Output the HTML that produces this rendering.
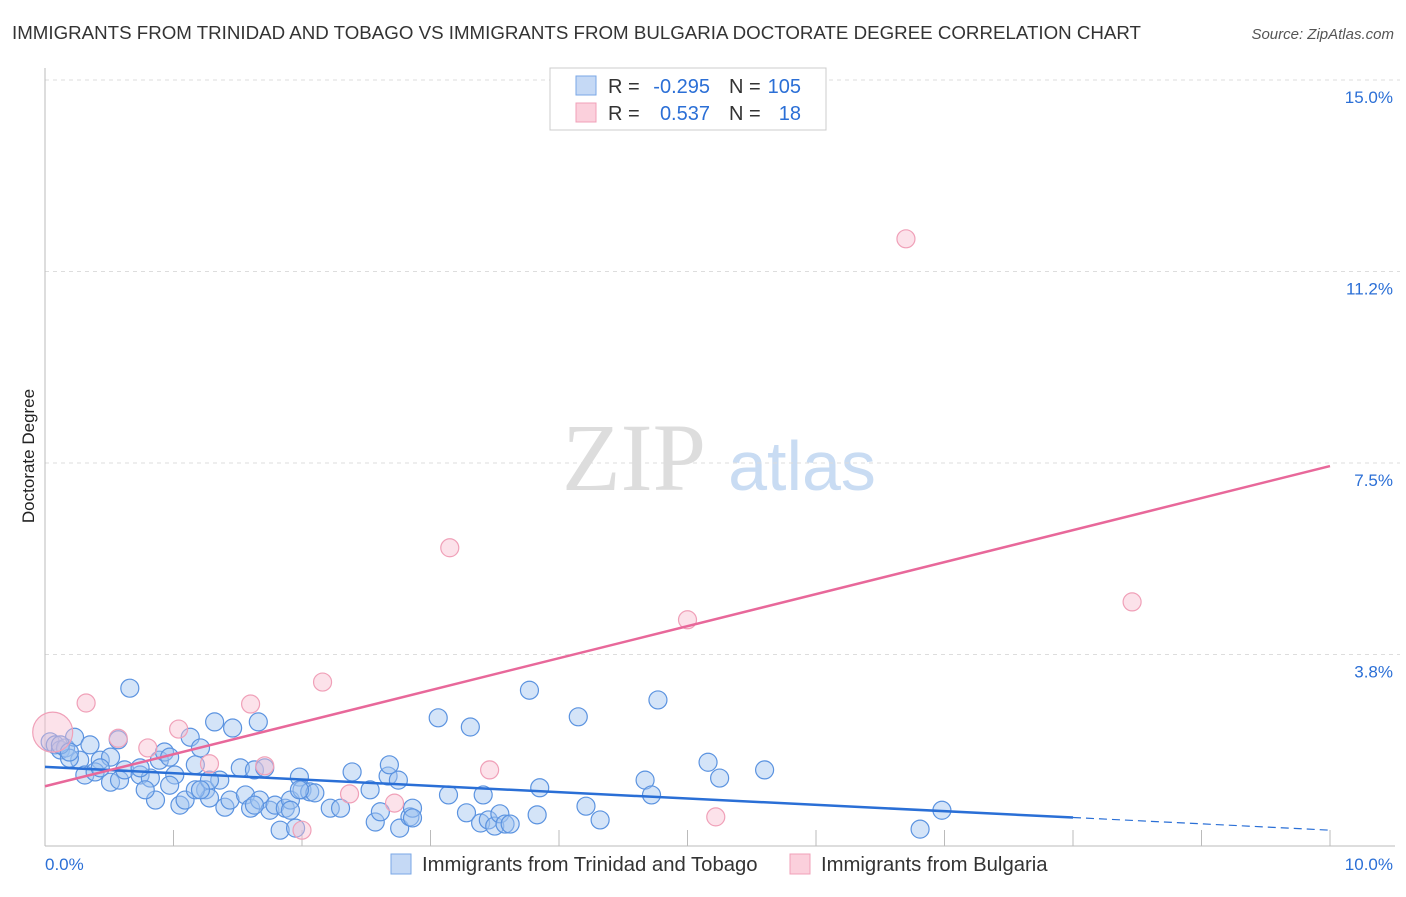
<!DOCTYPE html>
<html><head><meta charset="utf-8"><style>
body{margin:0;background:#fff;font-family:"Liberation Sans",sans-serif}
</style></head><body>
<svg width="1406" height="892" xmlns="http://www.w3.org/2000/svg" font-family="Liberation Sans, sans-serif">
<text x="12" y="39" font-size="18.6" fill="#333" textLength="1129" lengthAdjust="spacingAndGlyphs">IMMIGRANTS FROM TRINIDAD AND TOBAGO VS IMMIGRANTS FROM BULGARIA DOCTORATE DEGREE CORRELATION CHART</text>
<text x="1394" y="39" font-size="15" fill="#555" font-style="italic" text-anchor="end">Source: ZipAtlas.com</text>
<g><text x="634" y="490" font-size="96" font-family="Liberation Serif, serif" fill="#ddd" text-anchor="middle">ZIP</text><text x="802" y="490" font-size="70" fill="#c9dcf3" text-anchor="middle">atlas</text></g>
<g id="grid"></g>
<g id="axes"></g>
<text transform="translate(34,456) rotate(-90)" font-size="17" fill="#222" text-anchor="middle">Doctorate Degree</text>
<g id="marks"></g>
<g>
<rect x="550" y="68" width="276" height="62" fill="#fff" stroke="#ccc"/>
<rect x="576" y="76" width="20" height="19" fill="#c5d9f5" stroke="#7aa7e6"/>
<rect x="576" y="103" width="20" height="19" fill="#fbd0dc" stroke="#f0a0b8"/>
<g font-size="20" fill="#333">
<text x="608" y="93">R =</text><text x="710" y="93" text-anchor="end" fill="#2b6fd6">-0.295</text>
<text x="729" y="93">N =</text><text x="801" y="93" text-anchor="end" fill="#2b6fd6">105</text>
<text x="608" y="120">R =</text><text x="710" y="120" text-anchor="end" fill="#2b6fd6">0.537</text>
<text x="729" y="120">N =</text><text x="801" y="120" text-anchor="end" fill="#2b6fd6">18</text>
</g>
</g>
<g>
<rect x="391" y="854" width="20" height="20" fill="#c5d9f5" stroke="#7aa7e6"/>
<text x="422" y="871" font-size="20.3" fill="#333">Immigrants from Trinidad and Tobago</text>
<rect x="790" y="854" width="20" height="20" fill="#fbd0dc" stroke="#f0a0b8"/>
<text x="821" y="871" font-size="20.3" fill="#333">Immigrants from Bulgaria</text>
</g>
</svg>
<script>
const yTicks=[3.75,7.5,11.25,15];
const yTickLabels=["3.8%","7.5%","11.2%","15.0%"];
const xTickLabels=["0.0%","10.0%"];
const blueX=[0.04,0.08,0.12,0.16,0.23,0.35,0.43,0.51,0.27,0.19,0.31,0.39,0.51,0.58,0.66,0.57,0.62,0.74,0.82,0.86,0.78,0.89,0.93,0.97,1.01,1.05,1.09,1.13,1.17,1.21,1.25,1.28,1.32,1.36,1.40,1.44,1.46,1.52,1.56,1.60,1.63,1.66,1.67,1.71,1.75,1.79,1.83,1.87,1.91,1.95,1.98,2.00,2.06,2.10,2.22,2.30,2.39,2.53,2.57,2.61,2.67,2.68,2.75,2.76,2.84,2.86,2.86,3.06,3.14,3.28,3.31,3.39,3.41,3.45,3.50,3.54,3.58,3.62,3.77,3.83,3.85,4.15,4.21,4.32,4.67,4.72,4.77,5.16,5.25,5.60,6.81,6.98,1.98,1.63,0.12,0.19,0.43,0.74,0.97,1.17,1.28,1.91,1.21];
const blueY=[2.04,1.98,1.88,1.92,2.13,1.98,1.68,1.74,1.68,1.72,1.39,1.45,1.25,1.29,3.09,2.08,1.49,1.39,1.33,0.90,1.10,1.68,1.84,1.74,1.39,0.80,0.90,2.13,1.59,1.92,1.10,0.94,2.43,1.29,0.76,0.90,2.31,1.53,1.00,0.74,1.49,2.43,0.90,1.53,0.70,0.80,0.31,0.74,0.90,0.35,1.35,1.10,1.06,1.04,0.74,0.74,1.45,1.10,0.47,0.67,1.37,1.59,1.29,0.35,0.57,0.74,0.55,2.51,1.00,0.65,2.33,0.45,1.00,0.51,0.39,0.63,0.43,0.43,3.05,0.61,1.14,2.53,0.78,0.51,1.29,1.00,2.86,1.64,1.33,1.49,0.33,0.70,1.10,0.80,1.98,1.84,1.53,1.53,1.19,1.10,1.29,0.70,1.10];
const pinkX=[0.06,0.32,0.57,0.80,1.04,1.28,1.60,1.71,2.16,2.00,2.37,2.72,3.15,3.46,5.00,5.22,6.70,8.46];
const pinkY=[2.23,2.80,2.11,1.92,2.29,1.61,2.78,1.57,3.21,0.31,1.02,0.84,5.84,1.49,4.43,0.57,11.89,4.78];
const blueTrend=[1.55,0.31];
const pinkTrend=[1.17,7.44];
const blueSolidEnd=8.0;
const NS="http://www.w3.org/2000/svg";
const X0=45,X1=1330,YB=846,YT=80;
const xs=v=>X0+v/10*(X1-X0);
const ys=v=>YB-v/15*(YB-YT);
function mk(t,a,p){const e=document.createElementNS(NS,t);for(const k in a)e.setAttribute(k,a[k]);p.appendChild(e);return e;}
const grid=document.getElementById('grid'),axes=document.getElementById('axes'),marks=document.getElementById('marks');
yTicks.forEach((t,i)=>{
 const l=mk('line',{x1:X0,x2:X1+70,y1:ys(t),y2:ys(t),stroke:'#ddd','stroke-dasharray':'4,4'},grid);
 
 
 const tx=mk('text',{x:1393,y:ys(t)+23,'font-size':17,fill:'#2b6fd6','text-anchor':'end'},axes);
 tx.textContent=yTickLabels[i];
 
 
});
const ax=mk('line',{x1:X0,x2:X0,y1:68,y2:YB,stroke:'#bbb'},axes);


const bx=mk('line',{x1:X0,x2:X1+65,y1:YB,y2:YB,stroke:'#bbb'},axes);


for(let i=1;i<=10;i++){const t=mk('line',{x1:xs(i),x2:xs(i),y1:YB,y2:YB-16,stroke:'#bbb'},axes);
 
 }
[[0,'start',45],[10,'end',1393]].forEach((d,i)=>{const t=mk('text',{x:d[2],y:870,'font-size':17,fill:'#2b6fd6','text-anchor':d[1]},axes);t.textContent=xTickLabels[i];
 
 });
blueX.forEach((v,i)=>{const c=mk('circle',{cx:xs(v),cy:ys(blueY[i]),r:9,fill:'rgba(160,196,240,0.45)',stroke:'#5b93e0','stroke-width':1.2},marks);
 
 });
pinkX.forEach((v,i)=>{const c=mk('circle',{cx:xs(v),cy:ys(pinkY[i]),r:i==0?20:9,fill:'rgba(248,190,208,0.45)',stroke:'#f0a0b8','stroke-width':1.2},marks);
 
 });
const bAt=x=>blueTrend[0]+(blueTrend[1]-blueTrend[0])*x/10;
const b1=mk('line',{x1:xs(0),y1:ys(bAt(0)),x2:xs(blueSolidEnd),y2:ys(bAt(blueSolidEnd)),stroke:'#2a6fd6','stroke-width':2.5},marks);


const b2=mk('line',{x1:xs(blueSolidEnd),y1:ys(bAt(blueSolidEnd)),x2:xs(10),y2:ys(bAt(10)),stroke:'#2a6fd6','stroke-width':1.2,'stroke-dasharray':'8,5'},marks);


const p1=mk('line',{x1:xs(0),y1:ys(pinkTrend[0]),x2:xs(10),y2:ys(pinkTrend[1]),stroke:'#e8689a','stroke-width':2.5},marks);


</script>
</body></html>
